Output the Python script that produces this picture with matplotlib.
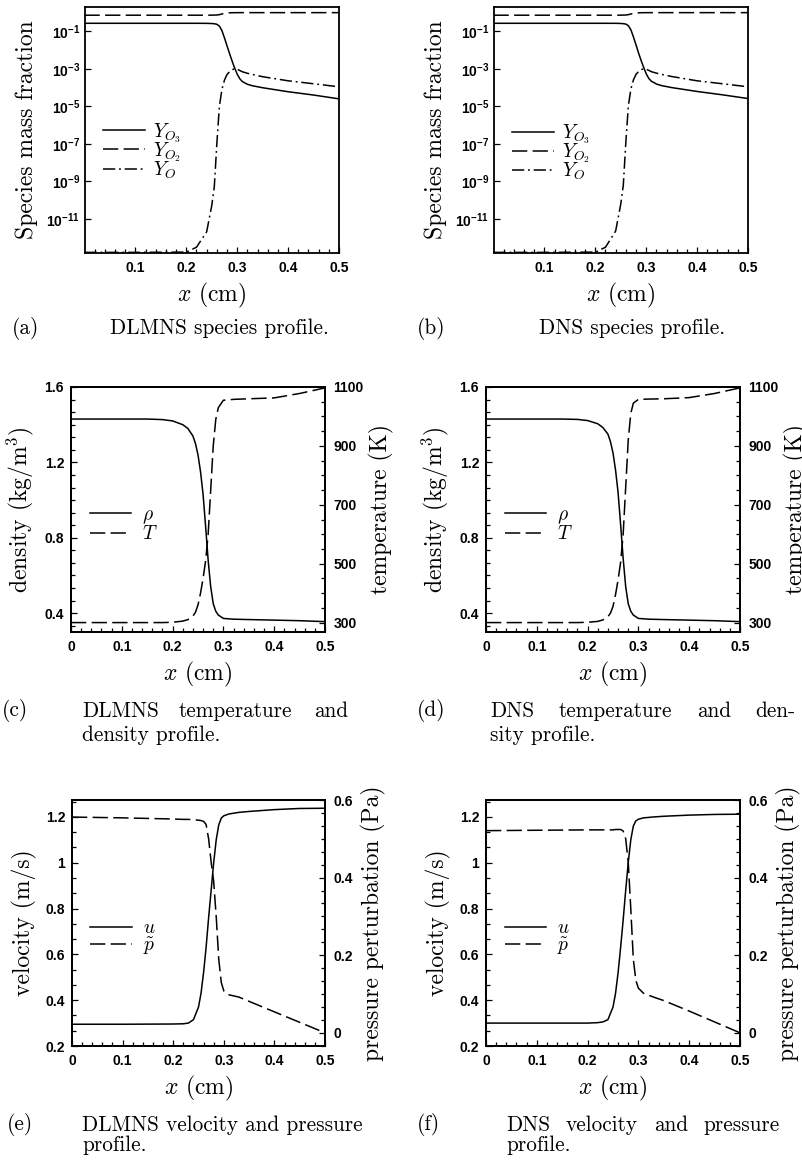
import matplotlib
matplotlib.use('Agg')
import matplotlib.pyplot as plt
from matplotlib.ticker import MultipleLocator, NullLocator

plt.rcParams['mathtext.fontset'] = 'cm'

# ---- data ----
# species profiles (a) DLMNS, (b) DNS
x_sp = [0.0, 0.10, 0.20, 0.22, 0.24, 0.25, 0.255, 0.26, 0.265, 0.27, 0.275, 0.28,
        0.285, 0.29, 0.295, 0.30, 0.305, 0.31, 0.32, 0.33, 0.35, 0.40, 0.45, 0.50]
yo3_a = [0.27, 0.27, 0.27, 0.27, 0.268, 0.262, 0.255, 0.24, 0.19, 0.11, 0.045, 0.017,
         0.0065, 0.0026, 0.0011, 5.2e-4, 3.0e-4, 2.1e-4, 1.5e-4, 1.25e-4, 9.8e-5, 6.0e-5, 4.0e-5, 2.5e-5]
yo2_a = [0.73, 0.73, 0.73, 0.73, 0.73, 0.735, 0.74, 0.75, 0.78, 0.85, 0.92, 0.96,
         0.98, 0.99, 0.995, 0.998, 1.0, 1.0, 1.0, 1.0, 1.0, 1.0, 1.0, 1.0]
yo_a = [1.6e-13, 1.6e-13, 1.65e-13, 3e-13, 2e-12, 5e-11, 5e-10, 1e-7, 1e-5, 8e-5, 2.5e-4, 5e-4,
        7e-4, 9e-4, 1.0e-3, 9.5e-4, 8.2e-4, 7.0e-4, 5.8e-4, 5.0e-4, 3.8e-4, 2.3e-4, 1.6e-4, 1.1e-4]
yo3_b = [0.27, 0.27, 0.27, 0.27, 0.269, 0.264, 0.258, 0.245, 0.20, 0.12, 0.05, 0.019,
         0.007, 0.0028, 0.0012, 5.5e-4, 3.1e-4, 2.2e-4, 1.55e-4, 1.28e-4, 1.0e-4, 6.2e-5, 4.1e-5, 2.6e-5]
yo2_b = yo2_a
yo_b = [1.6e-13, 1.6e-13, 1.65e-13, 3e-13, 2.2e-12, 6e-11, 6e-10, 1.2e-7, 1.1e-5, 8.5e-5, 2.6e-4, 5.1e-4,
        7.1e-4, 9e-4, 1.0e-3, 9.5e-4, 8.3e-4, 7.1e-4, 5.9e-4, 5.1e-4, 3.9e-4, 2.3e-4, 1.6e-4, 1.1e-4]

# density / temperature (c) DLMNS, (d) DNS
x_rt = [0.0, 0.10, 0.15, 0.18, 0.20, 0.22, 0.23, 0.24, 0.245, 0.25, 0.255, 0.26,
        0.265, 0.27, 0.275, 0.28, 0.285, 0.29, 0.30, 0.32, 0.35, 0.40, 0.45, 0.50]
rho_c = [1.43, 1.43, 1.43, 1.427, 1.42, 1.40, 1.38, 1.34, 1.30, 1.24, 1.15, 1.03,
         0.86, 0.68, 0.54, 0.45, 0.41, 0.39, 0.372, 0.368, 0.366, 0.363, 0.36, 0.355]
T_c = [300, 300, 300, 300, 301, 305, 310, 322, 335, 360, 400, 450,
       510, 600, 750, 900, 990, 1030, 1055, 1058, 1060, 1063, 1078, 1097]
rho_d = [1.43, 1.43, 1.43, 1.428, 1.422, 1.405, 1.385, 1.35, 1.31, 1.25, 1.16, 1.04,
         0.87, 0.69, 0.54, 0.45, 0.41, 0.39, 0.372, 0.368, 0.366, 0.363, 0.36, 0.355]
T_d = [300, 300, 300, 300, 301, 304, 309, 320, 332, 355, 395, 445,
       505, 600, 760, 920, 1010, 1045, 1058, 1059, 1060, 1064, 1078, 1097]

# velocity / pressure (e) DLMNS, (f) DNS
x_up = [0.0, 0.10, 0.20, 0.22, 0.23, 0.24, 0.25, 0.255, 0.26, 0.265, 0.27, 0.275,
        0.28, 0.285, 0.29, 0.295, 0.30, 0.31, 0.33, 0.35, 0.40, 0.45, 0.50]
u_e = [0.295, 0.295, 0.296, 0.297, 0.30, 0.315, 0.37, 0.43, 0.52, 0.63, 0.76, 0.88,
       1.00, 1.10, 1.165, 1.195, 1.205, 1.213, 1.22, 1.224, 1.232, 1.237, 1.238]
p_e = [0.556, 0.554, 0.551, 0.55, 0.55, 0.549, 0.548, 0.547, 0.545, 0.537, 0.50, 0.44,
       0.39, 0.30, 0.19, 0.13, 0.108, 0.098, 0.092, 0.081, 0.054, 0.027, 0.0]
u_f = [0.30, 0.30, 0.30, 0.302, 0.305, 0.315, 0.37, 0.43, 0.52, 0.63, 0.75, 0.88,
       1.00, 1.10, 1.16, 1.183, 1.19, 1.196, 1.20, 1.203, 1.208, 1.211, 1.212]
p_f = [0.521, 0.522, 0.523, 0.523, 0.523, 0.523, 0.523, 0.524, 0.524, 0.524, 0.52, 0.50,
       0.44, 0.32, 0.19, 0.135, 0.115, 0.102, 0.092, 0.083, 0.056, 0.028, 0.0]

x_ticks = [0, 0.1, 0.2, 0.3, 0.4, 0.5]
x_labels = ['0', '0.1', '0.2', '0.3', '0.4', '0.5']
log_ticks = [1e-1, 1e-3, 1e-5, 1e-7, 1e-9, 1e-11]
log_labels = [r'$\mathdefault{10^{-%d}}$' % k for k in (1, 3, 5, 7, 9, 11)]

# ---- style ----
W, H = 803, 1165
LW = 1.1
DASH = (0, (10, 3.5))
DASHDOT = (0, (8, 2.5, 1.2, 2.5))
TF = dict(fontfamily='Liberation Sans', fontweight='bold', fontsize=10)
LF = dict(fontfamily='cmr10', fontsize=17)
CF = dict(fontfamily='cmr10', fontsize=15.3, va='center')

fig = plt.figure(figsize=(W / 100, H / 100), dpi=100)


def box(l, t, r, b):
    return [l / W, 1 - b / H, (r - l) / W, (b - t) / H]


def style(ax, side='left'):
    for s in ax.spines.values():
        s.set_linewidth(1.3)
    ax.tick_params(which='both', direction='in', width=0.9, pad=6,
                   top=False, left=(side == 'left'), right=(side == 'right'))
    ax.tick_params(which='major', length=4.5)
    ax.tick_params(which='minor', length=3)


def species(rect, yo3, yo2, yo, leg_y):
    ax = fig.add_axes(rect)
    ax.plot(x_sp, yo3, color='k', lw=LW, label=r'$Y_{O_3}$')
    ax.plot(x_sp, yo2, color='k', lw=LW, ls=DASH, label=r'$Y_{O_2}$')
    ax.plot(x_sp, yo, color='k', lw=LW, ls=DASHDOT, label=r'$Y_O$')
    ax.set_yscale('log')
    ax.set_xlim(0.001, 0.5)
    ax.set_ylim(1.48e-13, 2.0)
    ax.set_xticks(x_ticks[1:], x_labels[1:], **TF)
    ax.xaxis.set_minor_locator(MultipleLocator(0.02))
    ax.set_yticks(log_ticks, log_labels, **TF)
    ax.yaxis.set_minor_locator(NullLocator())
    style(ax)
    ax.tick_params(axis='y', pad=3.5)
    ax.set_xlabel(r'$x$ (cm)', labelpad=4, **LF)
    ax.set_ylabel('Species mass fraction', labelpad=6, **LF)
    ax.legend(loc='center left', bbox_to_anchor=(0.071, leg_y), frameon=False,
              fontsize=14, handlelength=2.15, handletextpad=0.4, labelspacing=-0.23,
              borderpad=0, borderaxespad=0)
    return ax


def two_axis(rect, x, y1, y2, lab1, lab2, ylab1, ylab2, lim1, lim2,
             t1, l1, m1, t2, l2, m2, rlabpad, legsp):
    ax = fig.add_axes(rect)
    ax.plot(x, y1, color='k', lw=LW, label=lab1)
    ax.set_xlim(0, 0.5)
    ax.set_ylim(*lim1)
    ax.set_xticks(x_ticks, x_labels, **TF)
    ax.xaxis.set_minor_locator(MultipleLocator(0.02))
    ax.set_yticks(t1, l1, **TF)
    ax.yaxis.set_minor_locator(MultipleLocator(m1))
    style(ax)
    ax.tick_params(axis='y', pad=5)
    ax2 = ax.twinx()
    ax2.plot(x, y2, color='k', lw=LW, ls=DASH, label=lab2)
    ax2.set_ylim(*lim2)
    ax2.set_yticks(t2, l2, **TF)
    ax2.yaxis.set_minor_locator(MultipleLocator(m2))
    style(ax2, side='right')
    ax2.tick_params(axis='y', pad=6)
    ax.set_xlabel(r'$x$ (cm)', labelpad=4, **LF)
    ax.set_ylabel(ylab1, labelpad=6, **LF)
    ax2.set_ylabel(ylab2, labelpad=rlabpad, **LF)
    h1, _ = ax.get_legend_handles_labels()
    h2, _ = ax2.get_legend_handles_labels()
    ax.legend(h1 + h2, [lab1, lab2], loc='center left', bbox_to_anchor=(0.073, 0.44),
              frameon=False, fontsize=14, handlelength=2.15, handletextpad=0.55,
              labelspacing=legsp, borderpad=0, borderaxespad=0)
    return ax, ax2


species(box(85, 7, 339, 253), yo3_a, yo2_a, yo_a, 0.415)
species(box(494, 7, 748, 253), yo3_b, yo2_b, yo_b, 0.41)

rt = dict(lab1=r'$\rho$', lab2=r'$T$', ylab1=r'density (kg/m$^3$)',
          ylab2='temperature (K)', lim1=(0.3, 1.6), lim2=(268, 1100),
          t1=[0.4, 0.8, 1.2, 1.6], l1=['0.4', '0.8', '1.2', '1.6'], m1=0.4 / 6,
          t2=[300, 500, 700, 900, 1100], l2=['300', '500', '700', '900', '1100'], m2=50,
          rlabpad=4, legsp=-0.06)
two_axis(box(71, 387, 325, 632), x_rt, rho_c, T_c, **rt)
two_axis(box(486, 387, 740, 632), x_rt, rho_d, T_d, **rt)

up = dict(lab1=r'$u$', lab2=r'$\tilde{p}$', ylab1='velocity (m/s)',
          ylab2='pressure perturbation (Pa)', lim1=(0.2, 1.274), lim2=(-0.034, 0.6),
          t1=[0.2, 0.4, 0.6, 0.8, 1.0, 1.2], l1=['0.2', '0.4', '0.6', '0.8', '1', '1.2'],
          m1=0.2 / 3,
          t2=[0, 0.2, 0.4, 0.6], l2=['0', '0.2', '0.4', '0.6'], m2=0.2 / 6,
          rlabpad=6, legsp=-0.08)
two_axis(box(72, 800, 325, 1046), x_up, u_e, p_e, **up)
two_axis(box(486, 800, 740, 1046), x_up, u_f, p_f, **up)


# ---- captions (justified lines are set word by word) ----
def cap(x, y, s, ha='left'):
    fig.text(x / W, 1 - y / H, s, ha=ha, **CF)


cap(12, 328, '(a)')
cap(110, 328, 'DLMNS species profile.')
cap(417, 328, '(b)')
cap(539, 328, 'DNS species profile.')

cap(2, 711, '(c)')
cap(82, 711, 'DLMNS')
cap(179, 711, 'temperature')
cap(348, 711, 'and', ha='right')
cap(82, 735, 'density profile.')
cap(417, 711, '(d)')
cap(490, 711, 'DNS')
cap(559, 711, 'temperature')
cap(697, 711, 'and')
cap(795, 711, 'den-', ha='right')
cap(490, 735, 'sity profile.')

cap(7, 1125, '(e)')
cap(82, 1125, 'DLMNS velocity and pressure')
cap(82, 1145, 'profile.')
cap(417, 1125, '(f)')
cap(506, 1125, 'DNS')
cap(566, 1125, 'velocity')
cap(654, 1125, 'and')
cap(780, 1125, 'pressure', ha='right')
cap(506, 1145, 'profile.')

fig.savefig('out.png', dpi=100)
